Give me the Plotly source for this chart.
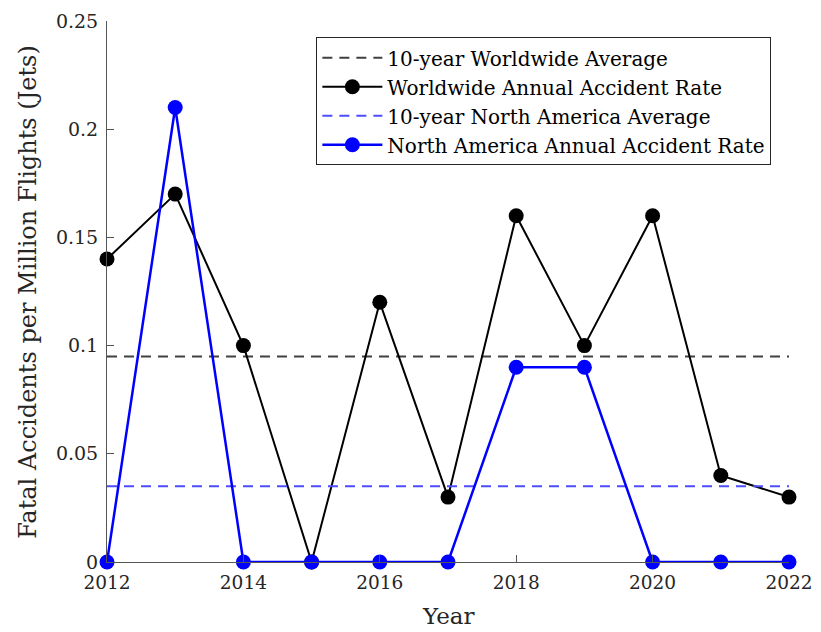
import plotly.graph_objects as go

years = [2012, 2013, 2014, 2015, 2016, 2017, 2018, 2019, 2020, 2021, 2022]
worldwide_rate = [0.14, 0.17, 0.10, 0.00, 0.12, 0.03, 0.16, 0.10, 0.16, 0.04, 0.03]
na_rate = [0.00, 0.21, 0.00, 0.00, 0.00, 0.00, 0.09, 0.09, 0.00, 0.00, 0.00]
worldwide_avg = 0.095
na_avg = 0.035

x_ticks = [2012, 2014, 2016, 2018, 2020, 2022]
y_ticks = [0, 0.05, 0.1, 0.15, 0.2, 0.25]
y_tick_labels = ["0", "0.05", "0.1", "0.15", "0.2", "0.25"]

FONT = "DejaVu Serif"
AX = "#262626"

fig = go.Figure()
fig.add_trace(go.Scatter(
    x=[years[0], years[-1]], y=[worldwide_avg, worldwide_avg],
    mode="lines", name="10-year Worldwide Average",
    line=dict(color="#404040", width=2, dash="10px,7px"), cliponaxis=False))
fig.add_trace(go.Scatter(
    x=years, y=worldwide_rate, mode="lines+markers",
    name="Worldwide Annual Accident Rate",
    line=dict(color="black", width=2), marker=dict(color="black", size=15),
    cliponaxis=False))
fig.add_trace(go.Scatter(
    x=[years[0], years[-1]], y=[na_avg, na_avg],
    mode="lines", name="10-year North America Average",
    line=dict(color="#4d4dff", width=2, dash="10px,7px"), cliponaxis=False))
fig.add_trace(go.Scatter(
    x=years, y=na_rate, mode="lines+markers",
    name="North America Annual Accident Rate",
    line=dict(color="#0000ff", width=2.5), marker=dict(color="#0000ff", size=15),
    cliponaxis=False))

# page body adds an 8px offset, so the figure is 813x624
fig.update_layout(
    width=813, height=624,
    margin=dict(l=99, r=32, t=13, b=70, autoexpand=False),
    plot_bgcolor="white", paper_bgcolor="white",
    font=dict(family=FONT, color=AX, size=17),
    showlegend=True,
    legend=dict(
        x=0.307, y=0.97, xanchor="left", yanchor="top",
        bgcolor="white", bordercolor=AX, borderwidth=1,
        font=dict(family=FONT, size=20, color="black"),
        tracegroupgap=0, itemwidth=60,
    ),
    xaxis=dict(
        range=[2012, 2022], tickvals=x_ticks, ticktext=[str(v) for v in x_ticks],
        showline=True, linecolor="#555555", linewidth=1, mirror=False,
        ticks="inside", ticklen=7, tickcolor="#555555",
        showgrid=False, zeroline=False, automargin=False,
        ticklabelstandoff=4,
        tickfont=dict(size=18.5, family=FONT, color=AX),
    ),
    yaxis=dict(
        range=[0, 0.25], tickvals=y_ticks, ticktext=y_tick_labels,
        showline=True, linecolor="#555555", linewidth=1, mirror=False,
        ticks="inside", ticklen=7, tickcolor="#555555",
        showgrid=False, zeroline=False, automargin=False,
        ticklabelstandoff=4,
        tickfont=dict(size=19, family=FONT, color=AX),
    ),
    annotations=[
        dict(text="Fatal Accidents per Million Flights (Jets)", xref="paper", yref="paper",
             x=-0.117, y=0.5, xanchor="center", yanchor="middle", textangle=-90,
             showarrow=False, font=dict(size=24, family=FONT, color=AX)),
        dict(text="Year", xref="paper", yref="paper",
             x=0.5, y=-0.099, xanchor="center", yanchor="middle",
             showarrow=False, font=dict(size=23, family=FONT, color=AX)),
    ],
)

fig.write_html("out.html")
